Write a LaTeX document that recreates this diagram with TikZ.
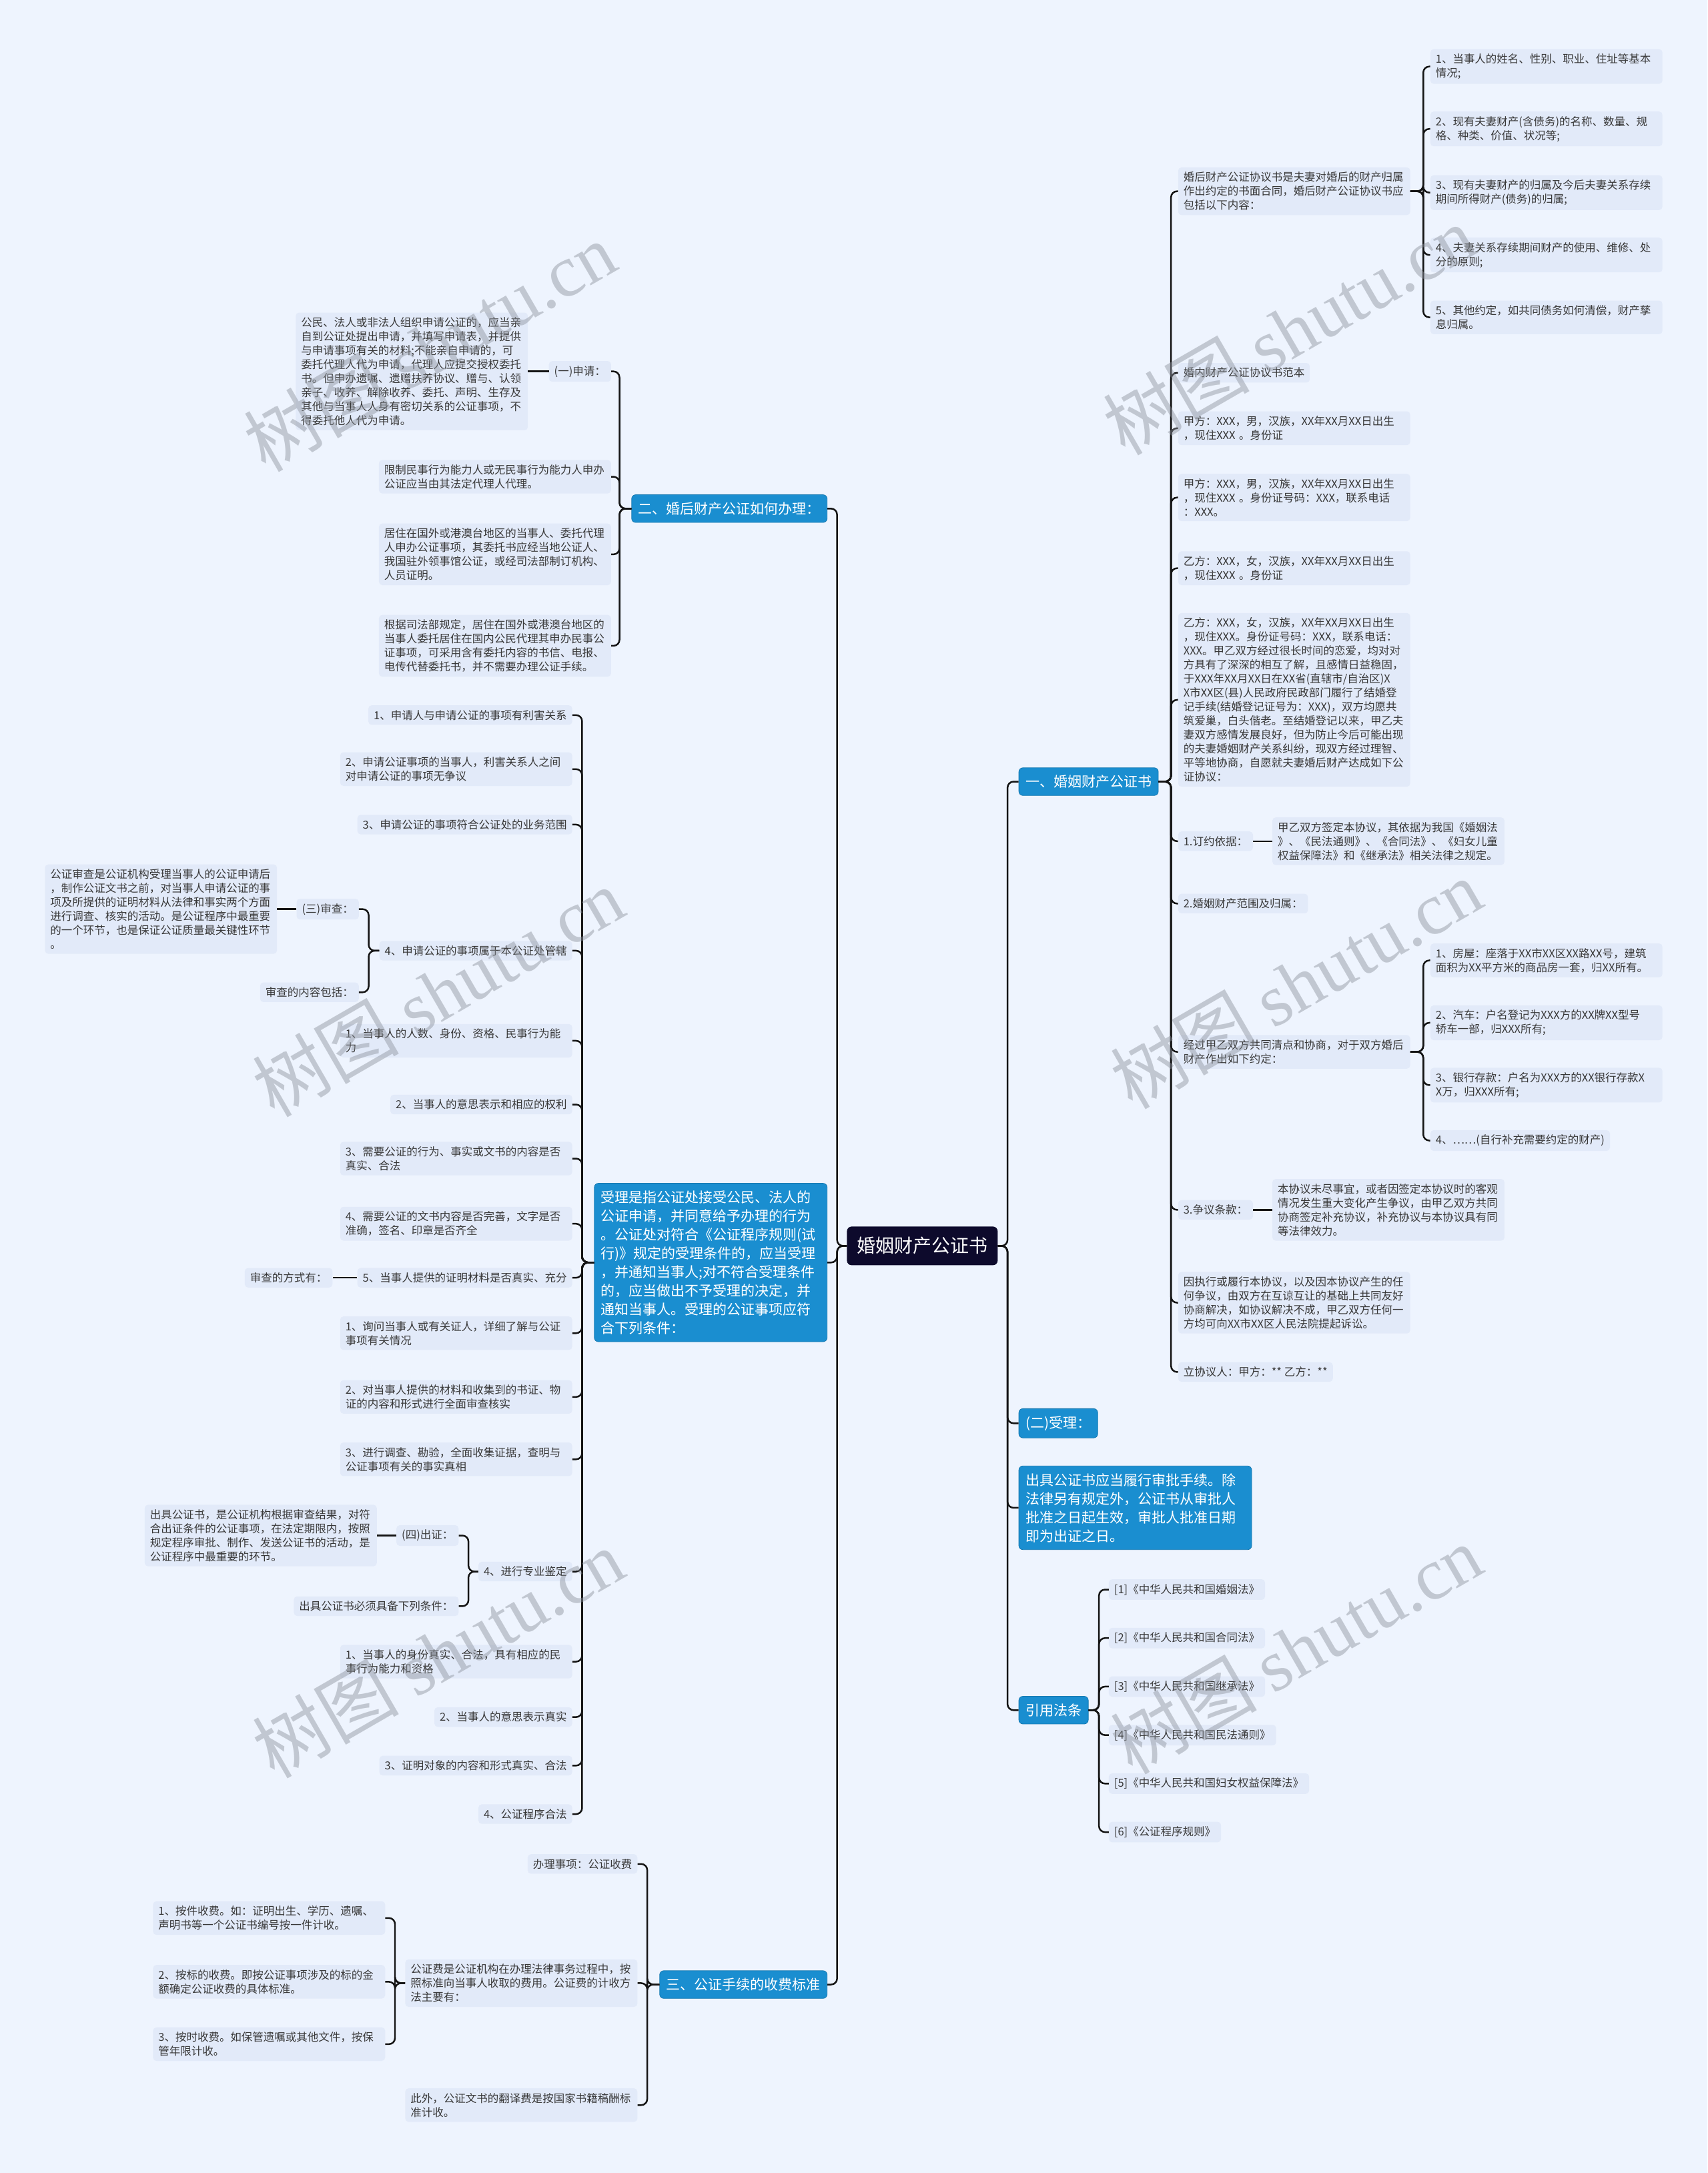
\documentclass[tikz,border=0pt]{standalone}
\usepackage{fontspec}
\setmainfont{Noto Sans CJK SC}
\newfontfamily\wmfont{Liberation Serif}
\newfontfamily\wmcjk{Noto Sans CJK SC}
\usetikzlibrary{calc}
\definecolor{bgc}{HTML}{EEF4FE}
\definecolor{leafc}{HTML}{E2EAF9}
\definecolor{bluc}{HTML}{1A8ED0}
\definecolor{navyc}{HTML}{0D0A2C}
\definecolor{txtc}{HTML}{383838}
\definecolor{lnc}{HTML}{141414}
\definecolor{wmc}{HTML}{8C929C}
\newcommand\rconn[3]{\draw[conn] (#1.east) -- (#1.east -| #2) |- (#3.west);}
\newcommand\lconn[3]{\draw[conn] (#1.west) -- (#1.west -| #2) |- (#3.east);}
\begin{document}
\begin{tikzpicture}[x=2.0779pt, y=-2.0779pt,
  leaf/.style={fill=leafc, rounded corners=5pt, inner xsep=8pt, inner ysep=7pt, text=txtc, font=\fontsize{16.5}{21}\selectfont, align=left},
  wideleaf/.style={leaf, text width=332pt},
  bluebox/.style={fill=bluc, draw=bluc!85!black, line width=0.8pt, rounded corners=6pt, inner xsep=10pt, inner ysep=11pt, text=white, font=\fontsize{21}{28}\selectfont, align=left},
  bluewide/.style={bluebox, text width=329pt},
  rootbox/.style={fill=navyc, rounded corners=7pt, inner xsep=15pt, inner ysep=16pt, text=white, font=\fontsize{28}{34}\selectfont},
  conn/.style={draw=lnc, line width=2.5pt, rounded corners=9pt},
  wm/.style={text=wmc, text opacity=0.45, rotate=30, inner sep=0pt}
]
\useasboundingbox (0,0) rectangle (1232,1568);
\fill[bgc] (0,0) rectangle (1232,1568);

% trunks
\coordinate (tR) at (727,0);
\coordinate (tL) at (604,0);
\coordinate (tR1) at (845,0);
\coordinate (tR1a) at (1027,0);
\coordinate (tR1i) at (1027,0);
\coordinate (tR4) at (793,0);
\coordinate (tL1) at (447,0);
\coordinate (tL2) at (420,0);
\coordinate (tL2d) at (266,0);
\coordinate (tL2m) at (338,0);
\coordinate (tL3) at (467,0);
\coordinate (tL3b) at (285,0);

% root
\node[rootbox] (root) at (665.5,899) {婚姻财产公证书};

% ===== right side =====
\node[bluebox, anchor=west] (R1) at (735,564) {一、婚姻财产公证书};
\node[wideleaf, anchor=west] (R1a) at (850,138) {婚后财产公证协议书是夫妻对婚后的财产归属\\作出约定的书面合同，婚后财产公证协议书应\\包括以下内容：};
\node[wideleaf, anchor=west] (R1a1) at (1032,48) {1、当事人的姓名、性别、职业、住址等基本\\情况;};
\node[wideleaf, anchor=west] (R1a2) at (1032,93) {2、现有夫妻财产(含债务)的名称、数量、规\\格、种类、价值、状况等;};
\node[wideleaf, anchor=west] (R1a3) at (1032,139) {3、现有夫妻财产的归属及今后夫妻关系存续\\期间所得财产(债务)的归属;};
\node[wideleaf, anchor=west] (R1a4) at (1032,184) {4、夫妻关系存续期间财产的使用、维修、处\\分的原则;};
\node[wideleaf, anchor=west] (R1a5) at (1032,229) {5、其他约定，如共同债务如何清偿，财产孳\\息归属。};
\node[leaf, anchor=west] (R1b) at (850,269) {婚内财产公证协议书范本};
\node[wideleaf, anchor=west] (R1c) at (850,309) {甲方：XXX，男，汉族，XX年XX月XX日出生\\，现住XXX 。身份证};
\node[wideleaf, anchor=west] (R1d) at (850,359) {甲方：XXX，男，汉族，XX年XX月XX日出生\\，现住XXX 。身份证号码：XXX，联系电话\\：XXX。};
\node[wideleaf, anchor=west] (R1e) at (850,410) {乙方：XXX，女，汉族，XX年XX月XX日出生\\，现住XXX 。身份证};
\node[wideleaf, anchor=west] (R1f) at (850,505) {乙方：XXX，女，汉族，XX年XX月XX日出生\\，现住XXX。身份证号码：XXX，联系电话：\\XXX。甲乙双方经过很长时间的恋爱，均对对\\方具有了深深的相互了解，且感情日益稳固，\\于XXX年XX月XX日在XX省(直辖市/自治区)X\\X市XX区(县)人民政府民政部门履行了结婚登\\记手续(结婚登记证号为：XXX)，双方均愿共\\筑爱巢，白头偕老。至结婚登记以来，甲乙夫\\妻双方感情发展良好，但为防止今后可能出现\\的夫妻婚姻财产关系纠纷，现双方经过理智、\\平等地协商，自愿就夫妻婚后财产达成如下公\\证协议：};
\node[leaf, anchor=west] (R1g) at (850,607) {1.订约依据：};
\node[wideleaf, anchor=west] (R1g1) at (918,607) {甲乙双方签定本协议，其依据为我国《婚姻法\\》、《民法通则》、《合同法》、《妇女儿童\\权益保障法》和《继承法》相关法律之规定。};
\node[leaf, anchor=west] (R1h) at (850,652) {2.婚姻财产范围及归属：};
\node[wideleaf, anchor=west] (R1i) at (850,759) {经过甲乙双方共同清点和协商，对于双方婚后\\财产作出如下约定：};
\node[wideleaf, anchor=west] (R1i1) at (1032,693) {1、房屋：座落于XX市XX区XX路XX号，建筑\\面积为XX平方米的商品房一套，归XX所有。};
\node[wideleaf, anchor=west] (R1i2) at (1032,738) {2、汽车：户名登记为XXX方的XX牌XX型号\\轿车一部，归XXX所有;};
\node[wideleaf, anchor=west] (R1i3) at (1032,783) {3、银行存款：户名为XXX方的XX银行存款X\\X万，归XXX所有;};
\node[leaf, anchor=west] (R1i4) at (1032,823) {4、……(自行补充需要约定的财产)};
\node[leaf, anchor=west] (R1j) at (850,873) {3.争议条款：};
\node[wideleaf, anchor=west] (R1j1) at (918,873) {本协议未尽事宜，或者因签定本协议时的客观\\情况发生重大变化产生争议，由甲乙双方共同\\协商签定补充协议，补充协议与本协议具有同\\等法律效力。};
\node[wideleaf, anchor=west] (R1k) at (850,940) {因执行或履行本协议，以及因本协议产生的任\\何争议，由双方在互谅互让的基础上共同友好\\协商解决，如协议解决不成，甲乙双方任何一\\方均可向XX市XX区人民法院提起诉讼。};
\node[leaf, anchor=west] (R1l) at (850,990) {立协议人：甲方：** 乙方：**};

\node[bluebox, anchor=west] (R2) at (735,1027) {(二)受理：};
\node[bluewide, anchor=west] (R3) at (735,1088) {出具公证书应当履行审批手续。除\\法律另有规定外，公证书从审批人\\批准之日起生效，审批人批准日期\\即为出证之日。};
\node[bluebox, anchor=west] (R4) at (735,1234) {引用法条};
\node[leaf, anchor=west] (R41) at (800,1147) {[1]《中华人民共和国婚姻法》};
\node[leaf, anchor=west] (R42) at (800,1182) {[2]《中华人民共和国合同法》};
\node[leaf, anchor=west] (R43) at (800,1217) {[3]《中华人民共和国继承法》};
\node[leaf, anchor=west] (R44) at (800,1252) {[4]《中华人民共和国民法通则》};
\node[leaf, anchor=west] (R45) at (800,1287) {[5]《中华人民共和国妇女权益保障法》};
\node[leaf, anchor=west] (R46) at (800,1322) {[6]《公证程序规则》};

% ===== left side =====
\node[bluebox, anchor=east] (L1) at (597,367) {二、婚后财产公证如何办理：};
\node[leaf, anchor=east] (L1a) at (441,268) {(一)申请：};
\node[wideleaf, anchor=east] (L1a1) at (381,268) {公民、法人或非法人组织申请公证的，应当亲\\自到公证处提出申请，并填写申请表，并提供\\与申请事项有关的材料;不能亲自申请的，可\\委托代理人代为申请，代理人应提交授权委托\\书。但申办遗嘱、遗赠扶养协议、赠与、认领\\亲子、收养、解除收养、委托、声明、生存及\\其他与当事人人身有密切关系的公证事项，不\\得委托他人代为申请。};
\node[wideleaf, anchor=east] (L1b) at (441,344) {限制民事行为能力人或无民事行为能力人申办\\公证应当由其法定代理人代理。};
\node[wideleaf, anchor=east] (L1c) at (441,400) {居住在国外或港澳台地区的当事人、委托代理\\人申办公证事项，其委托书应经当地公证人、\\我国驻外领事馆公证，或经司法部制订机构、\\人员证明。};
\node[wideleaf, anchor=east] (L1d) at (441,466) {根据司法部规定，居住在国外或港澳台地区的\\当事人委托居住在国内公民代理其申办民事公\\证事项，可采用含有委托内容的书信、电报、\\电传代替委托书，并不需要办理公证手续。};

\node[bluewide, anchor=east] (L2) at (597,911) {受理是指公证处接受公民、法人的\\公证申请，并同意给予办理的行为\\。公证处对符合《公证程序规则(试\\行)》规定的受理条件的，应当受理\\，并通知当事人;对不符合受理条件\\的，应当做出不予受理的决定，并\\通知当事人。受理的公证事项应符\\合下列条件：};
\node[leaf, anchor=east] (L2a) at (413,516) {1、申请人与申请公证的事项有利害关系};
\node[wideleaf, anchor=east] (L2b) at (413,555) {2、申请公证事项的当事人，利害关系人之间\\对申请公证的事项无争议};
\node[leaf, anchor=east] (L2c) at (413,595) {3、申请公证的事项符合公证处的业务范围};
\node[leaf, anchor=east] (L2d) at (413,686) {4、申请公证的事项属于本公证处管辖};
\node[leaf, anchor=east] (L2d1) at (259,656) {(三)审查：};
\node[wideleaf, anchor=east] (L2d1x) at (200,656) {公证审查是公证机构受理当事人的公证申请后\\，制作公证文书之前，对当事人申请公证的事\\项及所提供的证明材料从法律和事实两个方面\\进行调查、核实的活动。是公证程序中最重要\\的一个环节，也是保证公证质量最关键性环节\\。};
\node[leaf, anchor=east] (L2d2) at (259,716) {审查的内容包括：};
\node[wideleaf, anchor=east] (L2e) at (413,751) {1、当事人的人数、身份、资格、民事行为能\\力};
\node[leaf, anchor=east] (L2f) at (413,797) {2、当事人的意思表示和相应的权利};
\node[wideleaf, anchor=east] (L2g) at (413,836) {3、需要公证的行为、事实或文书的内容是否\\真实、合法};
\node[wideleaf, anchor=east] (L2h) at (413,883) {4、需要公证的文书内容是否完善，文字是否\\准确，签名、印章是否齐全};
\node[leaf, anchor=east] (L2i) at (413,922) {5、当事人提供的证明材料是否真实、充分};
\node[leaf, anchor=east] (L2i1) at (240,922) {审查的方式有：};
\node[wideleaf, anchor=east] (L2j) at (413,962) {1、询问当事人或有关证人，详细了解与公证\\事项有关情况};
\node[wideleaf, anchor=east] (L2k) at (413,1008) {2、对当事人提供的材料和收集到的书证、物\\证的内容和形式进行全面审查核实};
\node[wideleaf, anchor=east] (L2l) at (413,1053) {3、进行调查、勘验，全面收集证据，查明与\\公证事项有关的事实真相};
\node[leaf, anchor=east] (L2m) at (413,1134) {4、进行专业鉴定};
\node[leaf, anchor=east] (L2m1) at (331,1108) {(四)出证：};
\node[wideleaf, anchor=east] (L2m1x) at (272,1108) {出具公证书，是公证机构根据审查结果，对符\\合出证条件的公证事项，在法定期限内，按照\\规定程序审批、制作、发送公证书的活动，是\\公证程序中最重要的环节。};
\node[leaf, anchor=east] (L2m2) at (331,1159) {出具公证书必须具备下列条件：};
\node[wideleaf, anchor=east] (L2n) at (413,1199) {1、当事人的身份真实、合法，具有相应的民\\事行为能力和资格};
\node[leaf, anchor=east] (L2o) at (413,1239) {2、当事人的意思表示真实};
\node[leaf, anchor=east] (L2p) at (413,1274) {3、证明对象的内容和形式真实、合法};
\node[leaf, anchor=east] (L2q) at (413,1309) {4、公证程序合法};

\node[bluebox, anchor=east] (L3) at (597,1432) {三、公证手续的收费标准};
\node[leaf, anchor=east] (L3a) at (460,1345) {办理事项：公证收费};
\node[wideleaf, anchor=east] (L3b) at (460,1431) {公证费是公证机构在办理法律事务过程中，按\\照标准向当事人收取的费用。公证费的计收方\\法主要有：};
\node[wideleaf, anchor=east] (L3b1) at (278,1384) {1、按件收费。如：证明出生、学历、遗嘱、\\声明书等一个公证书编号按一件计收。};
\node[wideleaf, anchor=east] (L3b2) at (278,1430) {2、按标的收费。即按公证事项涉及的标的金\\额确定公证收费的具体标准。};
\node[wideleaf, anchor=east] (L3b3) at (278,1475) {3、按时收费。如保管遗嘱或其他文件，按保\\管年限计收。};
\node[wideleaf, anchor=east] (L3c) at (460,1519) {此外，公证文书的翻译费是按国家书籍稿酬标\\准计收。};

% ===== connectors =====
\foreach \n in {R1,R2,R3,R4} {\rconn{root}{tR}{\n}}
\foreach \n in {L1,L2,L3} {\lconn{root}{tL}{\n}}
\foreach \n in {R1a,R1b,R1c,R1d,R1e,R1f,R1g,R1h,R1i,R1j,R1k,R1l} {\rconn{R1}{tR1}{\n}}
\foreach \n in {R1a1,R1a2,R1a3,R1a4,R1a5} {\rconn{R1a}{tR1a}{\n}}
\foreach \n in {R1i1,R1i2,R1i3,R1i4} {\rconn{R1i}{tR1i}{\n}}
\draw[conn] (R1g.east) -- (R1g1.west);
\draw[conn] (R1j.east) -- (R1j1.west);
\foreach \n in {R41,R42,R43,R44,R45,R46} {\rconn{R4}{tR4}{\n}}
\foreach \n in {L1a,L1b,L1c,L1d} {\lconn{L1}{tL1}{\n}}
\draw[conn] (L1a.west) -- (L1a1.east);
\foreach \n in {L2a,L2b,L2c,L2d,L2e,L2f,L2g,L2h,L2i,L2j,L2k,L2l,L2m,L2n,L2o,L2p,L2q} {\lconn{L2}{tL2}{\n}}
\foreach \n in {L2d1,L2d2} {\lconn{L2d}{tL2d}{\n}}
\draw[conn] (L2d1.west) -- (L2d1x.east);
\draw[conn] (L2i.west) -- (L2i1.east);
\foreach \n in {L2m1,L2m2} {\lconn{L2m}{tL2m}{\n}}
\draw[conn] (L2m1.west) -- (L2m1x.east);
\foreach \n in {L3a,L3b,L3c} {\lconn{L3}{tL3}{\n}}
\foreach \n in {L3b1,L3b2,L3b3} {\lconn{L3b}{tL3b}{\n}}

% ===== watermarks =====
\node[wm] (wm1) at (310,250) {\fontsize{110}{120}\selectfont\wmcjk 树图 \wmfont shutu.cn};
\node[wm] (wm2) at (316,716) {\fontsize{110}{120}\selectfont\wmcjk 树图 \wmfont shutu.cn};
\node[wm] (wm3) at (316,1193) {\fontsize{110}{120}\selectfont\wmcjk 树图 \wmfont shutu.cn};
\node[wm] (wm4) at (930,238) {\fontsize{110}{120}\selectfont\wmcjk 树图 \wmfont shutu.cn};
\node[wm] (wm5) at (935,710) {\fontsize{110}{120}\selectfont\wmcjk 树图 \wmfont shutu.cn};
\node[wm] (wm6) at (935,1190) {\fontsize{110}{120}\selectfont\wmcjk 树图 \wmfont shutu.cn};
\end{tikzpicture}
\end{document}
